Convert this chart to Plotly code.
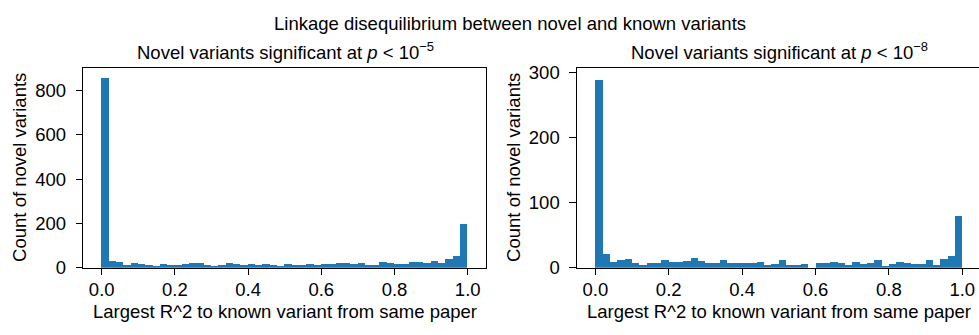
import numpy as np
import plotly.graph_objects as go

# Histogram bin edges (50 bins over R^2 in [0, 1])
bin_edges = np.linspace(0.0, 1.0, 51)
bin_centers = (bin_edges[:-1] + bin_edges[1:]) / 2
bin_width = bin_edges[1] - bin_edges[0]

# Counts of novel variants per bin, p < 1e-5
counts_p5 = [856, 31, 27, 14, 23, 17, 13, 6, 17, 13,
             13, 17, 23, 23, 13, 9, 13, 23, 17, 13,
             17, 13, 17, 13, 9, 17, 13, 13, 17, 13,
             17, 17, 21, 21, 17, 21, 13, 13, 26, 21,
             17, 17, 26, 26, 21, 30, 21, 39, 52, 198]

# Counts of novel variants per bin, p < 1e-8
counts_p8 = [289, 22, 9, 12, 14, 7, 5, 7, 7, 12,
             9, 9, 11, 16, 11, 7, 7, 12, 7, 7,
             7, 8, 9, 5, 6, 12, 5, 5, 6, 0,
             8, 8, 9, 8, 5, 9, 6, 8, 12, 3,
             6, 9, 8, 6, 6, 12, 5, 14, 18, 80]

x_ticks = [0.0, 0.2, 0.4, 0.6, 0.8, 1.0]
x_tick_labels = ["0.0", "0.2", "0.4", "0.6", "0.8", "1.0"]
y_ticks_p5 = [0, 200, 400, 600, 800]
y_ticks_p8 = [0, 100, 200, 300]

title = "Linkage disequilibrium between novel and known variants"
sub1 = "Novel variants significant at <i>p</i> < 10<sup>−5</sup>"
sub2 = "Novel variants significant at <i>p</i> < 10<sup>−8</sup>"
xlabel = "Largest R^2 to known variant from same paper"
ylabel = "Count of novel variants"

W, H = 979, 335
BLUE = "#1f77b4"
FONT = "Liberation Sans, Arial, sans-serif"
FS = 18.5

fig = go.Figure()
fig.add_trace(go.Bar(x=bin_centers, y=counts_p5, width=bin_width,
                     marker=dict(color=BLUE, line=dict(width=0)),
                     xaxis="x", yaxis="y", showlegend=False))
fig.add_trace(go.Bar(x=bin_centers, y=counts_p8, width=bin_width,
                     marker=dict(color=BLUE, line=dict(width=0)),
                     xaxis="x2", yaxis="y2", showlegend=False))

def px_x(p):
    return p / W

def px_y(p):
    return 1 - p / H

ydom = [px_y(275), px_y(65)]
dom1 = [px_x(83.4), px_x(486)]
dom2 = [px_x(577), 1.0]

axis_common = dict(showgrid=False, zeroline=False, showline=True,
                   linecolor="black", linewidth=1.2, ticks="outside",
                   ticklen=6.5, tickwidth=1.2, tickcolor="black",
                   tickfont=dict(family=FONT, size=FS, color="black"))

fig.update_layout(
    width=W, height=H,
    margin=dict(l=0, r=0, t=0, b=0),
    paper_bgcolor="white", plot_bgcolor="white",
    bargap=0,
    font=dict(family=FONT, size=FS, color="black"),
    xaxis=dict(domain=dom1, anchor="y", range=[-0.05, 1.05], ticklabelstandoff=-2,
               tickvals=x_ticks, ticktext=x_tick_labels, mirror=True, **axis_common),
    yaxis=dict(domain=ydom, anchor="x", range=[0, 903], ticklabelstandoff=6,
               tickvals=y_ticks_p5, mirror=True, **axis_common),
    xaxis2=dict(domain=dom2, anchor="y2", range=[-0.0499, 1.0455], ticklabelstandoff=-2,
                tickvals=x_ticks, ticktext=x_tick_labels, mirror=True, **axis_common),
    yaxis2=dict(domain=ydom, anchor="x2", range=[0, 307], ticklabelstandoff=6,
                tickvals=y_ticks_p8, mirror=False, **axis_common),
)

ann = [
    dict(text=title, x=px_x(510), y=px_y(18.5)),
    dict(text=sub1, x=px_x(285.5), y=px_y(47)),
    dict(text=sub2, x=px_x(779), y=px_y(47)),
    dict(text=xlabel, x=px_x(284.7), y=px_y(321)),
    dict(text=xlabel, x=px_x(779), y=px_y(321)),
    dict(text=ylabel, x=px_x(20), y=px_y(170), textangle=-90),
    dict(text=ylabel, x=px_x(514), y=px_y(170), textangle=-90),
]
for a in ann:
    fig.add_annotation(xref="paper", yref="paper", showarrow=False,
                       xanchor="center", yanchor="middle",
                       font=dict(family=FONT, size=FS, color="black"), **a)

fig.write_html("out.html",
               config={"displayModeBar": False},
               post_script="document.documentElement.style.margin='0';"
                           "document.documentElement.style.overflow='hidden';"
                           "document.body.style.margin='0';"
                           "document.body.style.overflow='hidden';")
